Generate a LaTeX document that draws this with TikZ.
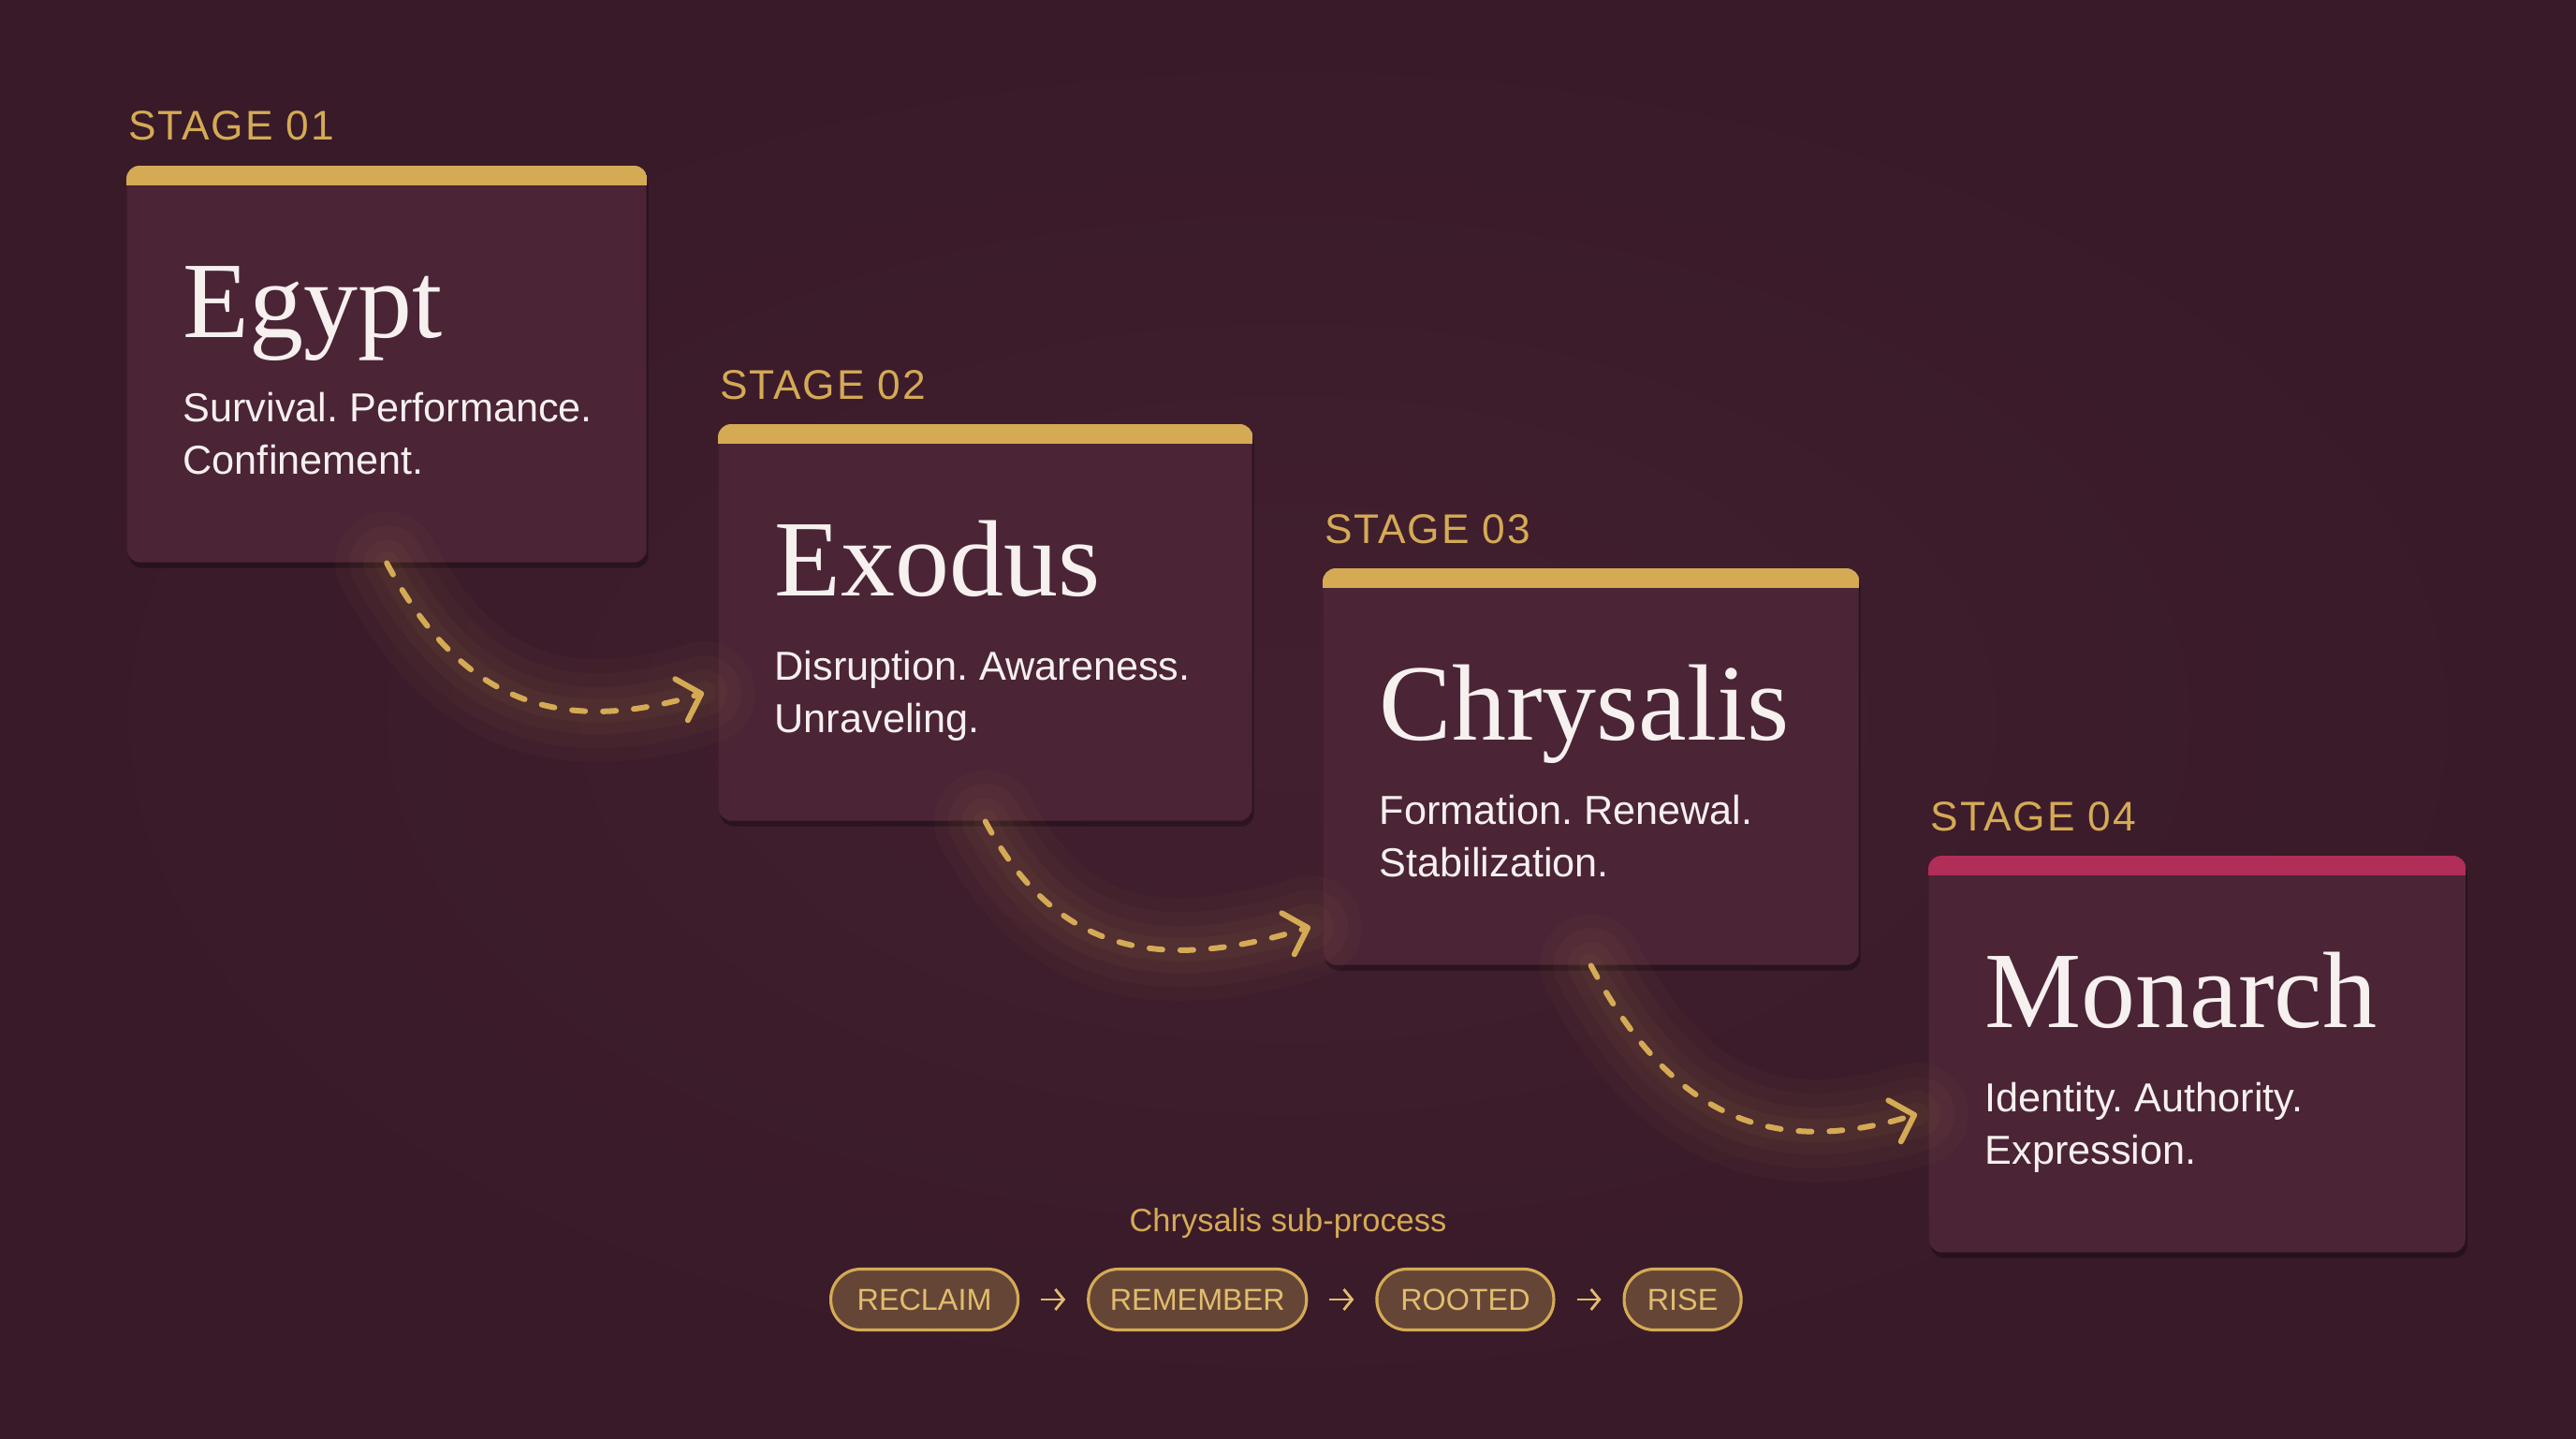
\documentclass[tikz,border=0pt]{standalone}
\usepackage{fontspec}
\setmainfont{Liberation Sans}
\newfontfamily\titlefont{Liberation Serif}
\newfontfamily\stagefont[LetterSpace=4]{Liberation Sans}
\usetikzlibrary{positioning,arrows.meta,shadows}
\frenchspacing

\definecolor{bgcenter}{HTML}{421F2F}
\definecolor{bgedge}{HTML}{381A28}
\definecolor{cardwine}{HTML}{4B2436}
\definecolor{gold}{HTML}{D4AA55}
\definecolor{rose}{HTML}{B02E58}
\definecolor{ink}{HTML}{F6F0EE}
\definecolor{pillbrown}{HTML}{654636}
\definecolor{pilltext}{HTML}{E2BC6E}

\tikzset{
  card/.style={fill=cardwine, rounded corners=0.14cm, minimum height=4.23cm,
    inner sep=0pt, anchor=north west,
    drop shadow={fill=black, opacity=0.3, shadow xshift=0.02cm, shadow yshift=-0.06cm}},
  stagelabel/.style={anchor=base west, inner sep=0pt, text=gold,
    font=\stagefont\fontsize{12.6}{15}\selectfont},
  cardtitle/.style={anchor=base west, inner sep=0pt, text=ink,
    font=\titlefont\fontsize{33}{38}\selectfont},
  cardline/.style={anchor=base west, inner sep=0pt, text=ink,
    font=\fontsize{12.3}{15}\selectfont},
  glow/.style={draw=gold, line cap=round, opacity=#1},
  flow/.style={draw=gold, line width=0.06cm, line cap=round,
    dash pattern=on 0.14cm off 0.19cm,
    -{Straight Barb[length=0.22cm, width=0.46cm, line cap=round, line join=round]}},
  pill/.style={draw=gold, line width=0.9pt, fill=pillbrown, rounded corners=0.32cm,
    minimum height=0.65cm, inner xsep=0.2cm, inner ysep=0pt, text=pilltext,
    font=\fontsize{9.2}{11}\selectfont},
  sublabel/.style={inner sep=0pt, text=gold, font=\fontsize{9.8}{12}\selectfont},
  hop/.style={draw=pilltext, line width=0.8pt,
    -{Straight Barb[length=0.09cm, width=0.22cm]}}
}

\begin{document}
\begin{tikzpicture}
  \useasboundingbox (0,0) rectangle (27.52,-15.36);
  \shade[inner color=bgcenter, outer color=bgedge] (0,0) rectangle (27.52,-15.36);

  \foreach \n/\x/\y/\w/\bar/\st/\ttl/\la/\lb in {
      egypt/1.35/-1.77/5.55/gold/01/Egypt/Survival. Performance./Confinement.,
      exodus/7.67/-4.53/5.70/gold/02/Exodus/Disruption. Awareness./Unraveling.,
      chrysalis/14.13/-6.07/5.72/gold/03/Chrysalis/Formation. Renewal./Stabilization.,
      monarch/20.60/-9.14/5.73/rose/04/Monarch/Identity. Authority./Expression.} {
    \node[card, minimum width=\w cm] (\n) at (\x,\y) {};
    \begin{scope}
      \clip[rounded corners=0.14cm] (\n.south west) rectangle (\n.north east);
      \fill[\bar] (\n.north west) rectangle ([yshift=-0.21cm]\n.north east);
    \end{scope}
    \node[stagelabel] (\n-stage) at ([shift={(0.02,0.27)}]\n.north west) {STAGE \st};
    \node[cardtitle] (\n-title) at ([shift={(0.6,-1.83)}]\n.north west) {\ttl};
    \node[cardline] (\n-la) at ([shift={(0.6,-2.73)}]\n.north west) {\la};
    \node[cardline] (\n-lb) at ([shift={(0.6,-3.29)}]\n.north west) {\lb};
  }

  \coordinate (tip1) at (7.52,-7.40);
  \coordinate (tip2) at (14.00,-9.90);
  \coordinate (tip3) at (20.48,-11.90);

  \foreach \a/\b in {egypt/tip1, exodus/tip2, chrysalis/tip3} {
    \foreach \lw/\op in {1.1/0.03, 0.8/0.035, 0.5/0.04, 0.25/0.045}
      \draw[glow=\op, line width=\lw cm] (\a.south) to[out=-62, in=197, looseness=1.15] (\b);
    \draw[flow] (\a.south) to[out=-62, in=197, looseness=1.15] (\b);
  }

  \node[sublabel] (subtitle) at (13.76,-13.07) {Chrysalis sub-process};
  \node[pill, anchor=west, minimum width=2.00cm] (reclaim) at (8.86,-13.88) {RECLAIM};
  \node[pill, right=0.72cm of reclaim, minimum width=2.33cm] (remember) {REMEMBER};
  \node[pill, right=0.72cm of remember, minimum width=1.89cm] (rooted) {ROOTED};
  \node[pill, right=0.72cm of rooted, minimum width=1.25cm] (rise) {RISE};

  \foreach \a/\b in {reclaim/remember, remember/rooted, rooted/rise}
    \draw[hop] ([xshift=0.23cm]\a.east) -- ([xshift=-0.23cm]\b.west);
\end{tikzpicture}
\end{document}
